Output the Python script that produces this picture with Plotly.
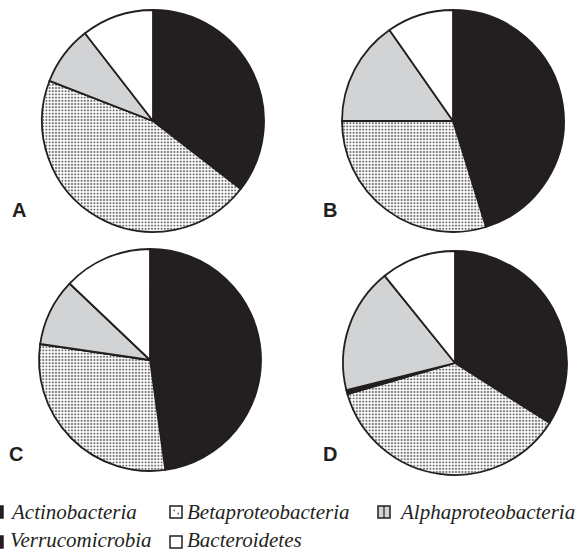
import plotly.graph_objects as go

# Phylum composition of each sample (% of clones)
taxa = ["Actinobacteria", "Betaproteobacteria", "Verrucomicrobia",
        "Alphaproteobacteria", "Bacteroidetes"]
sample_a = [35.5, 45.4, 0.0, 8.6, 10.5]
sample_b = [45.2, 29.8, 0.0, 15.3, 9.7]
sample_c = [47.8, 29.5, 0.0, 9.8, 12.9]
sample_d = [34.0, 36.5, 0.6, 18.1, 10.8]
panel_labels = ["A", "B", "C", "D"]
legend_order = ["Actinobacteria", "Betaproteobacteria", "Alphaproteobacteria",
                "Verrucomicrobia", "Bacteroidetes"]

W, H = 580, 553
BLACK = "#231f20"
GRAY = "#d1d3d4"
fills = [BLACK, "white", BLACK, GRAY, "white"]
patterns = ["", ".", "", "", ""]

# pie centre (px) and radius (px) for each panel
layout_px = [(153, 121, 111), (453, 121, 111), (150, 360, 111), (455, 363, 112)]
values = [sample_a, sample_b, sample_c, sample_d]

fig = go.Figure()
for vals, (cx, cy, r) in zip(values, layout_px):
    fig.add_trace(go.Pie(
        labels=taxa, values=vals, sort=False, direction="clockwise",
        rotation=0, textinfo="none", hoverinfo="label+percent",
        showlegend=False,
        domain=dict(x=[(cx - r) / W, (cx + r) / W],
                    y=[1 - (cy + r) / H, 1 - (cy - r) / H]),
        marker=dict(colors=fills, line=dict(color=BLACK, width=1.8),
                    pattern=dict(shape=patterns, fgcolor="#6d6d6d",
                                 bgcolor="white", size=3.2, solidity=0.35)),
    ))

# panel letters
letter_pos = [(10, 223), (321, 223), (7, 467), (321, 467)]
annotations = []
for lab, (x, y) in zip(panel_labels, letter_pos):
    annotations.append(dict(
        text=f"<b>{lab}</b>", x=x / W, y=1 - y / H, xref="paper", yref="paper",
        xanchor="left", yanchor="bottom", showarrow=False,
        font=dict(family="Liberation Sans, Arial", size=20, color=BLACK)))

# legend: swatch (left px, centre y px), name start x and name centre y
shapes = []
legend_pos = {
    "Actinobacteria": (-9, 512, 9, 512),
    "Betaproteobacteria": (170, 512, 186, 512),
    "Alphaproteobacteria": (378, 512, 398, 512),
    "Verrucomicrobia": (-9, 542, 9, 539.5),
    "Bacteroidetes": (170, 542, 186, 539.5),
}
swatch_fill = {"Actinobacteria": BLACK, "Betaproteobacteria": "white",
               "Alphaproteobacteria": GRAY, "Verrucomicrobia": BLACK,
               "Bacteroidetes": "white"}
for name in legend_order:
    x0, yc, tx, ty = legend_pos[name]
    shapes.append(dict(type="rect", xref="paper", yref="paper",
                       x0=x0 / W, x1=(x0 + 12) / W,
                       y0=1 - (yc + 6) / H, y1=1 - (yc - 6) / H,
                       fillcolor=swatch_fill[name],
                       line=dict(color=BLACK, width=1.5)))
    if name == "Betaproteobacteria":
        for dx, dy in [(3.5, -1.5), (7.5, 1.5)]:
            shapes.append(dict(type="rect", xref="paper", yref="paper",
                               x0=(x0 + dx) / W, x1=(x0 + dx + 1.5) / W,
                               y0=1 - (yc + dy + 0.75) / H,
                               y1=1 - (yc + dy - 0.75) / H,
                               fillcolor="#555", line=dict(width=0)))
    if name == "Alphaproteobacteria":
        shapes.append(dict(type="line", xref="paper", yref="paper",
                           x0=(x0 + 6) / W, x1=(x0 + 6) / W,
                           y0=1 - (yc + 6) / H, y1=1 - (yc - 6) / H,
                           line=dict(color=BLACK, width=1.2)))
    annotations.append(dict(
        text=name, x=tx / W, y=1 - ty / H,
        xref="paper", yref="paper", xanchor="left", yanchor="middle",
        showarrow=False, borderpad=0,
        font=dict(family="Liberation Serif", size=21, style="italic",
                  color=BLACK)))

fig.update_layout(
    width=W, height=H, margin=dict(l=0, r=0, t=0, b=0),
    paper_bgcolor="white", plot_bgcolor="white",
    annotations=annotations, shapes=shapes,
)

fig.write_html("out.html")
